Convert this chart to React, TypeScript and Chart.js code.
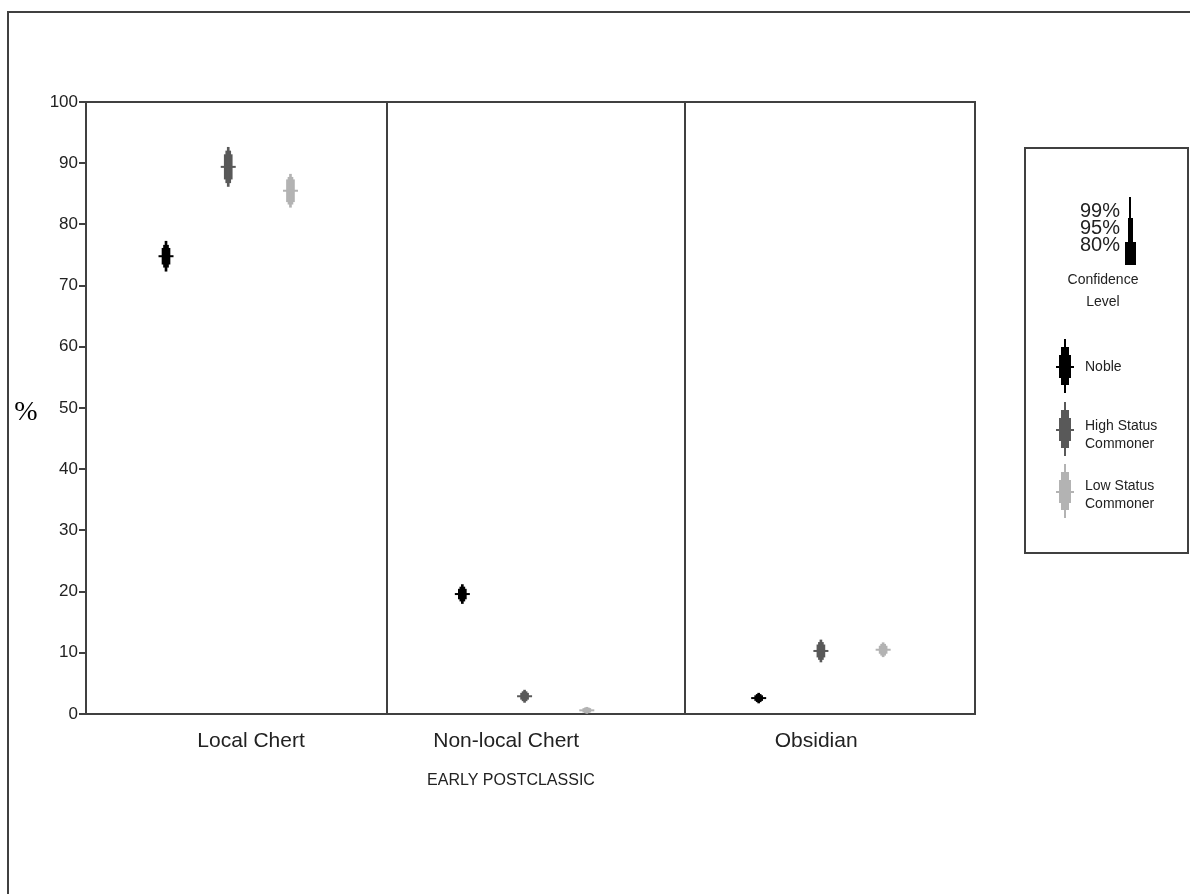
import React, { useEffect, useRef } from 'react';
import { Chart, registerables } from 'chart.js';

Chart.register(...registerables);

// ---- data ----
const categories = ['Local Chert', 'Non-local Chert', 'Obsidian'];
const categoryLabelAt = [0.557, 1.418, 2.464];
const panelDividers = [1.017, 2.022];
const groups = ['Noble', 'High Status Commoner', 'Low Status Commoner'];
const groupOffsets = [0.27, 0.48, 0.69];
const yTicks = [0, 10, 20, 30, 40, 50, 60, 70, 80, 90, 100];

const nobleMean = [74.8, 19.6, 2.6];
const highMean = [89.4, 2.9, 10.3];
const lowMean = [85.5, 0.6, 10.5];

// half-widths of confidence intervals (99%, 95%, 80%)
const noble99 = [2.45, 1.55, 0.8];
const noble95 = [1.8, 1.15, 0.6];
const noble80 = [1.3, 0.8, 0.4];
const high99 = [3.2, 1.0, 1.8];
const high95 = [2.6, 0.75, 1.4];
const high80 = [2.0, 0.5, 1.0];
const low99 = [2.7, 0.5, 1.15];
const low95 = [2.2, 0.4, 0.9];
const low80 = [1.8, 0.3, 0.6];

const confidenceLevels = ['99%', '95%', '80%'];

// ---- styles ----
const groupColors = ['#000000', '#595959', '#b3b3b3'];
const levelThickness = [2, 5, 8];
const axisColor = '#404040';
const textColor = '#222222';
const FONT = "'Liberation Sans', Arial, sans-serif";

const means = [nobleMean, highMean, lowMean];
const halfWidths = [
  [noble99, noble95, noble80],
  [high99, high95, high80],
  [low99, low95, low80],
];

function buildDatasets() {
  const ds: any[] = [];
  groups.forEach((g, gi) => {
    ds.push({
      type: 'scatter',
      label: g + ' mean',
      data: categories.map((_, ci) => ({ x: ci + groupOffsets[gi], y: means[gi][ci] })),
      pointStyle: 'line',
      pointRadius: 7.5,
      pointBorderWidth: 2,
      borderColor: groupColors[gi],
      backgroundColor: groupColors[gi],
      order: 0,
    });
  });
  confidenceLevels.forEach((lvl, li) => {
    groups.forEach((g, gi) => {
      ds.push({
        type: 'bar',
        label: g + ' ' + lvl,
        data: categories.map((_, ci) => ({
          x: ci + groupOffsets[gi],
          y: [means[gi][ci] - halfWidths[gi][li][ci], means[gi][ci] + halfWidths[gi][li][ci]],
        })),
        backgroundColor: groupColors[gi],
        borderWidth: 0,
        barThickness: levelThickness[li],
        grouped: false,
        order: 1,
      });
    });
  });
  return ds;
}

function drawLegendMarker(ctx: CanvasRenderingContext2D, x: number, c: number, color: string) {
  ctx.fillStyle = color;
  ctx.fillRect(x - 1, c - 28, 2, 54);
  ctx.fillRect(x - 4, c - 20, 8, 38);
  ctx.fillRect(x - 6, c - 12, 12, 23);
  ctx.fillRect(x - 9, c - 1, 18, 2);
}

const decorations = {
  id: 'decorations',
  beforeDatasetsDraw(chart: any) {
    const { ctx, chartArea, scales } = chart;
    ctx.save();
    ctx.strokeStyle = axisColor;
    ctx.lineWidth = 2;
    ctx.beginPath();
    ctx.moveTo(chartArea.left, chartArea.top);
    ctx.lineTo(chartArea.right, chartArea.top);
    ctx.lineTo(chartArea.right, chartArea.bottom);
    panelDividers.forEach((d) => {
      const px = Math.round(scales.x.getPixelForValue(d));
      ctx.moveTo(px, chartArea.top);
      ctx.lineTo(px, chartArea.bottom);
    });
    ctx.stroke();
    ctx.restore();
  },
  afterDraw(chart: any) {
    const { ctx } = chart;
    ctx.save();
    // outer frame
    ctx.strokeStyle = axisColor;
    ctx.lineWidth = 2;
    ctx.beginPath();
    ctx.moveTo(8, 900);
    ctx.lineTo(8, 12);
    ctx.lineTo(1200, 12);
    ctx.stroke();

    // y-axis title
    ctx.fillStyle = '#000';
    ctx.font = "28px 'Liberation Serif', 'Times New Roman', serif";
    ctx.textAlign = 'center';
    ctx.textBaseline = 'middle';
    ctx.fillText('%', 26, 413);

    // period label
    ctx.fillStyle = textColor;
    ctx.font = '16px ' + FONT;
    ctx.fillText('EARLY POSTCLASSIC', 511, 781);

    // legend box
    ctx.strokeStyle = axisColor;
    ctx.lineWidth = 2;
    ctx.strokeRect(1025, 148, 163, 405);

    // confidence key
    ctx.fillStyle = textColor;
    ctx.font = '20px ' + FONT;
    ctx.textAlign = 'right';
    const levelY = [211, 228, 245];
    confidenceLevels.forEach((l, i) => ctx.fillText(l, 1120, levelY[i]));
    ctx.fillStyle = '#000';
    ctx.fillRect(1129, 197, 2, 68);
    ctx.fillRect(1128, 218, 5, 47);
    ctx.fillRect(1125, 242, 11, 23);

    ctx.fillStyle = textColor;
    ctx.font = '14px ' + FONT;
    ctx.textAlign = 'center';
    ctx.fillText('Confidence', 1103, 280);
    ctx.fillText('Level', 1103, 302);

    // group keys
    const markerY = [367, 430, 492];
    const labelLines = [['Noble'], ['High Status', 'Commoner'], ['Low Status', 'Commoner']];
    const labelY = [[367], [426, 444], [486, 504]];
    groups.forEach((g, gi) => {
      drawLegendMarker(ctx, 1065, markerY[gi], groupColors[gi]);
      ctx.fillStyle = textColor;
      ctx.font = '14px ' + FONT;
      ctx.textAlign = 'left';
      labelLines[gi].forEach((t, ti) => ctx.fillText(t, 1085, labelY[gi][ti]));
    });
    ctx.restore();
  },
};

export default function App() {
  const canvasRef = useRef<HTMLCanvasElement | null>(null);

  useEffect(() => {
    const canvas = canvasRef.current;
    if (!canvas) return;
    const chart = new Chart(canvas, {
      type: 'bar',
      data: { datasets: buildDatasets() },
      options: {
        responsive: false,
        animation: false,
        devicePixelRatio: 1,
        layout: { padding: { left: 0, top: 102, right: 215, bottom: 0 } },
        plugins: {
          legend: { display: false },
          tooltip: { enabled: false },
        },
        scales: {
          x: {
            type: 'linear',
            min: 0,
            max: 3,
            offset: false,
            grid: { display: false, drawTicks: false, offset: false },
            border: { display: true, color: axisColor, width: 2 },
            afterBuildTicks: (scale: any) => {
              scale.ticks = categoryLabelAt.map((v) => ({ value: v }));
            },
            afterFit: (scale: any) => {
              scale.height = 180;
            },
            ticks: {
              autoSkip: false,
              maxRotation: 0,
              padding: 15,
              color: textColor,
              font: { family: FONT, size: 21 },
              callback: (_v: any, i: number) => categories[i],
            },
          },
          y: {
            type: 'linear',
            min: 0,
            max: 100,
            afterBuildTicks: (scale: any) => {
              scale.ticks = yTicks.map((v) => ({ value: v }));
            },
            afterFit: (scale: any) => {
              scale.width = 86;
            },
            grid: {
              display: true,
              drawOnChartArea: false,
              drawTicks: true,
              tickLength: 7,
              color: axisColor,
              lineWidth: 2,
            },
            border: { display: true, color: axisColor, width: 2 },
            ticks: {
              padding: 1,
              color: textColor,
              font: { family: FONT, size: 17 },
            },
          },
        },
      },
      plugins: [decorations],
    } as any);
    return () => chart.destroy();
  }, []);

  return (
    <div style={{ position: 'fixed', left: 0, top: 0, width: 1190, height: 894, background: '#fff' }}>
      <canvas ref={canvasRef} width={1190} height={894} style={{ display: 'block' }} />
    </div>
  );
}
